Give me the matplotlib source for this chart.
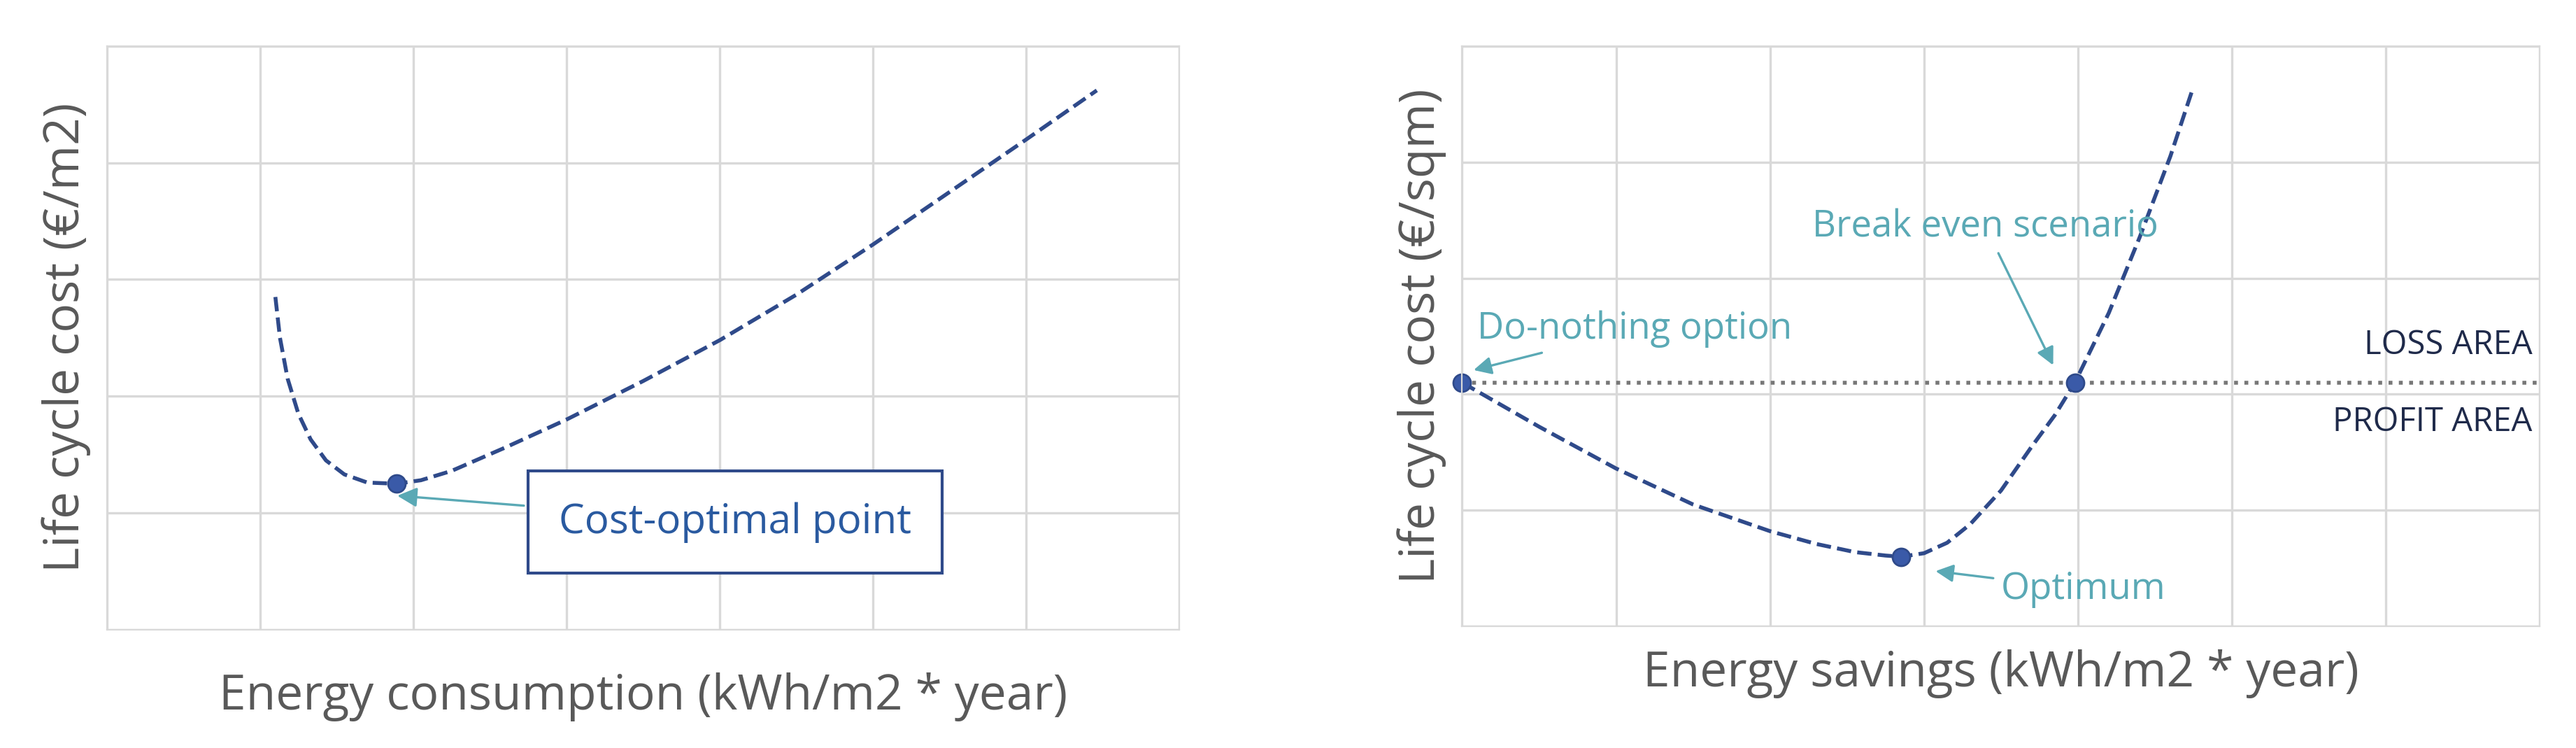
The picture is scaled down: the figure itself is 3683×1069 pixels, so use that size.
import matplotlib.pyplot as plt

plt.rcParams['font.family'] = ['Open Sans', 'DejaVu Sans']

# left panel: life cycle cost vs energy consumption (grid units)
cons_x = [1.1, 1.13, 1.18, 1.25, 1.33, 1.43, 1.55, 1.7, 1.89, 2.05, 2.25, 2.6, 3.0, 3.5, 4.0, 4.5, 5.0, 5.5, 6.0, 6.46]
cons_y = [2.85, 2.5, 2.15, 1.85, 1.63, 1.45, 1.33, 1.26, 1.25, 1.28, 1.36, 1.56, 1.8, 2.13, 2.48, 2.87, 3.3, 3.75, 4.2, 4.62]
opt_left = (1.89, 1.25)

# right panel: life cycle cost vs energy savings
sav_x = [0.0, 0.5, 1.0, 1.5, 2.0, 2.3, 2.55, 2.75, 2.85, 3.0, 3.15, 3.3, 3.5, 3.7, 3.85, 3.98, 4.2, 4.4, 4.6, 4.75]
sav_y = [2.1, 1.72, 1.36, 1.05, 0.82, 0.71, 0.64, 0.61, 0.6, 0.63, 0.72, 0.88, 1.17, 1.55, 1.82, 2.1, 2.7, 3.35, 4.05, 4.65]
do_nothing = (0.0, 2.1)
optimum = (2.85, 0.6)
break_even = (3.98, 2.1)

curve_col = '#2f4a8a'
note_col = '#5aa9b5'
grid_col = '#d9d9d9'

fig = plt.figure(figsize=(18.415, 5.345), dpi=200)
ax1 = fig.add_axes([65/1568, 1-383/455, 653/1568, 355/455])
ax2 = fig.add_axes([890/1568, 1-381/455, 656/1568, 353/455])

for ax in (ax1, ax2):
    ax.set_xlim(0, 7)
    ax.set_ylim(0, 5)
    ax.set_xticks(range(8))
    ax.set_yticks(range(6))
    ax.tick_params(length=0, labelbottom=False, labelleft=False)
    ax.grid(True, color=grid_col, linewidth=1.2)
    for s in ax.spines.values():
        s.set_color(grid_col)
    ax.set_axisbelow(True)

ax1.plot(cons_x, cons_y, '--', color=curve_col, linewidth=2)
ax1.plot(*opt_left, 'o', color='#3a5aa8', markersize=9, markeredgecolor=curve_col)
ax1.annotate('Cost-optimal point', xy=(opt_left[0] - 0.02, opt_left[1] - 0.1), xytext=(4.1, 0.92),
             fontsize=21, color='#2a5aa0', ha='center', va='center',
             bbox=dict(boxstyle='square,pad=0.75', fc='white', ec=curve_col, lw=1.5),
             arrowprops=dict(arrowstyle='-|>', color=note_col, lw=1.2))
ax1.set_xlabel('Energy consumption (kWh/m2 * year)', fontsize=25, color='#595959', labelpad=22)
ax1.set_ylabel('Life cycle cost (€/m2)', fontsize=25, color='#595959', labelpad=8)

ax2.axhline(do_nothing[1], color='#777777', linestyle=':', linewidth=2)
ax2.plot(sav_x, sav_y, '--', color=curve_col, linewidth=2)
for p in (do_nothing, optimum, break_even):
    ax2.plot(*p, 'o', color='#3a5aa8', markersize=9, markeredgecolor=curve_col, clip_on=False)
ax2.annotate('Do-nothing option', xy=(0.05, 2.2), xytext=(0.1, 2.56), fontsize=19, color=note_col,
             ha='left', va='center', arrowprops=dict(arrowstyle='-|>', color=note_col, lw=1.2))
ax2.annotate('Break even scenario', xy=(3.85, 2.22), xytext=(3.4, 3.44), fontsize=19, color=note_col,
             ha='center', va='center', arrowprops=dict(arrowstyle='-|>', color=note_col, lw=1.2))
ax2.annotate('Optimum', xy=(3.05, 0.48), xytext=(3.5, 0.32), fontsize=19, color=note_col,
             ha='left', va='center', arrowprops=dict(arrowstyle='-|>', color=note_col, lw=1.2))
ax2.text(6.95, 2.28, 'LOSS AREA', fontsize=17, color='#1f2a4a', ha='right', va='bottom')
ax2.text(6.95, 1.9, 'PROFIT AREA', fontsize=17, color='#1f2a4a', ha='right', va='top')
ax2.set_xlabel('Energy savings (kWh/m2 * year)', fontsize=25, color='#595959', labelpad=12)
ax2.set_ylabel('Life cycle cost (€/sqm)', fontsize=25, color='#595959', labelpad=8)

fig.savefig('out.png')
